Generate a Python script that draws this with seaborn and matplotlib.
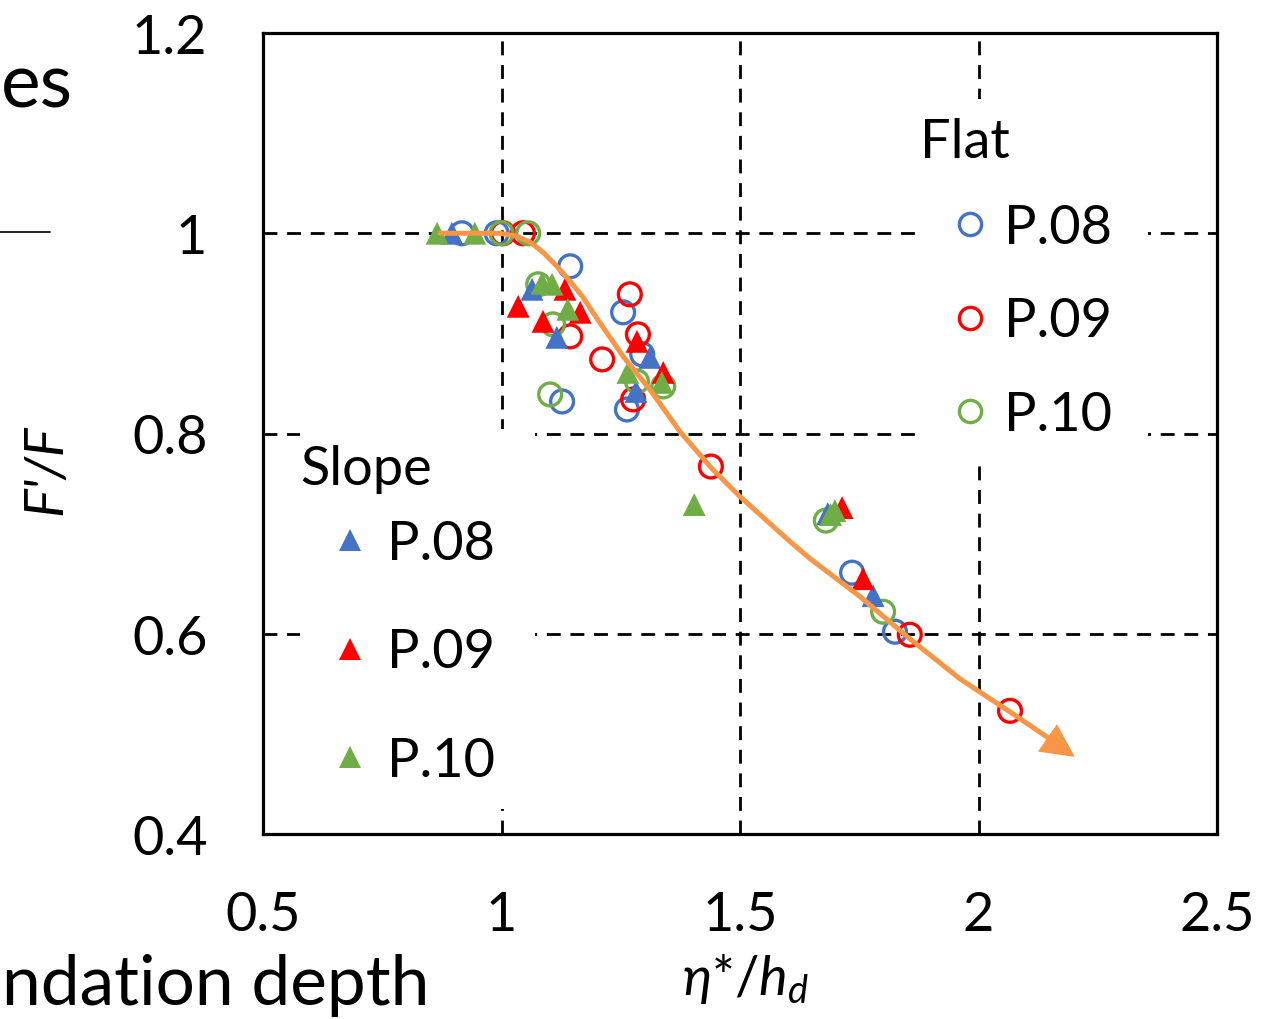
import numpy as np
import seaborn as sns
import matplotlib.pyplot as plt
from matplotlib.lines import Line2D
from matplotlib.patches import Rectangle

# flat series (open circles)
flat08_x = [0.917, 0.990, 1.144, 1.255, 1.295, 1.127, 1.263, 1.735, 1.825]
flat08_y = [1.000, 1.000, 0.967, 0.921, 0.879, 0.832, 0.824, 0.661, 0.602]
flat09_x = [1.003, 1.045, 1.144, 1.211, 1.269, 1.286, 1.276, 1.439, 1.856, 2.066]
flat09_y = [1.000, 1.000, 0.897, 0.874, 0.939, 0.899, 0.834, 0.767, 0.599, 0.523]
flat10_x = [1.000, 1.056, 1.077, 1.108, 1.102, 1.284, 1.339, 1.680, 1.800]
flat10_y = [1.000, 1.000, 0.949, 0.909, 0.839, 0.852, 0.847, 0.713, 0.622]

# slope series (filled triangles)
slope08_x = [0.896, 1.064, 1.116, 1.311, 1.282, 1.684, 1.779]
slope08_y = [1.000, 0.944, 0.896, 0.876, 0.842, 0.720, 0.638]
slope09_x = [1.035, 1.087, 1.133, 1.165, 1.284, 1.339, 1.714, 1.758]
slope09_y = [0.927, 0.912, 0.944, 0.921, 0.892, 0.861, 0.726, 0.655]
slope10_x = [0.865, 0.944, 1.085, 1.106, 1.139, 1.265, 1.336, 1.404, 1.699, 1.690]
slope10_y = [1.000, 1.000, 0.950, 0.949, 0.924, 0.861, 0.851, 0.729, 0.723, 0.719]

# fitted trend curve
curve_x = [0.871, 0.997, 1.032, 1.060, 1.087, 1.116, 1.144, 1.171, 1.200, 1.255,
           1.311, 1.374, 1.443, 1.500, 1.605, 1.647, 1.752, 1.856, 1.961, 2.066,
           2.171, 2.202]
curve_y = [1.000, 1.000, 0.997, 0.991, 0.981, 0.967, 0.952, 0.936, 0.915, 0.877,
           0.844, 0.802, 0.764, 0.737, 0.692, 0.675, 0.637, 0.595, 0.555, 0.522,
           0.488, 0.477]

x_ticks = [0.5, 1.0, 1.5, 2.0, 2.5]
x_ticklabels = ["0.5", "1", "1.5", "2", "2.5"]
y_ticks = [0.4, 0.6, 0.8, 1.0, 1.2]
y_ticklabels = ["0.4", "0.6", "0.8", "1", "1.2"]
labels = ["P.08", "P.09", "P.10"]
colors = ["#4472C4", "#FF0000", "#70AD47"]
orange = "#F79646"

W, H = 1261, 1020


def fx(px):
    return px / W


def fy(py):
    return 1 - py / H


sns.set_theme(style="white")
plt.rcParams['font.family'] = ['Lato', 'DejaVu Sans']
plt.rcParams['mathtext.fontset'] = 'custom'
plt.rcParams['mathtext.rm'] = 'Lato'
plt.rcParams['mathtext.it'] = 'Lato:italic'
for key in ['text.color', 'axes.labelcolor', 'xtick.color', 'ytick.color']:
    plt.rcParams[key] = 'black'
fs = 39

fig = plt.figure(figsize=(W / 100, H / 100), dpi=100)
ax = fig.add_axes([fx(263), fy(835), (1217 - 263) / W, (835 - 34) / H])

flat = [(flat08_x, flat08_y), (flat09_x, flat09_y), (flat10_x, flat10_y)]
slope = [(slope08_x, slope08_y), (slope09_x, slope09_y), (slope10_x, slope10_y)]

for (xs, ys), c in zip(flat, colors):
    sns.scatterplot(x=xs, y=ys, ax=ax, marker="o", s=270, facecolor="none",
                    edgecolor=c, linewidth=2.4, zorder=3)
for (xs, ys), c in zip(slope, colors):
    sns.scatterplot(x=xs, y=ys, ax=ax, marker="^", s=270, color=c,
                    edgecolor="none", linewidth=0, zorder=3)

sns.lineplot(x=curve_x[:-1], y=curve_y[:-1], ax=ax, sort=False, color=orange,
             lw=3.6, zorder=4, estimator=None)
ax.annotate("", xy=(curve_x[-1], curve_y[-1]), xytext=(curve_x[-3], curve_y[-3]),
            arrowprops=dict(arrowstyle="-|>", color=orange, lw=0,
                            mutation_scale=60, shrinkA=0, shrinkB=0), zorder=4)

ax.set_xlim(0.5, 2.5)
ax.set_ylim(0.4, 1.2)
ax.set_xticks(x_ticks)
ax.set_xticklabels(x_ticklabels)
ax.set_yticks(y_ticks)
ax.set_yticklabels(y_ticklabels)
ax.tick_params(labelsize=fs, length=0, pad=40)
ax.set_axisbelow(True)
ax.grid(True, color="black", lw=2.0, ls=(0, (5, 3.5)))
for sp in ax.spines.values():
    sp.set_color("black")
    sp.set_linewidth(2.3)

ax.set_xlabel(r"$\eta{*}/h_d$", fontsize=fs)
ax.set_ylabel("F'/F", fontsize=fs, style="italic")
ax.xaxis.set_label_coords((745 - 263) / 954, -(952 - 835) / 801)
ax.yaxis.set_label_coords(-(263 - 70) / 954, (835 - 470) / 801)

# white boxes behind the legends
ax.add_patch(Rectangle((fx(300), fy(810)), fx(535) - fx(300), fy(430) - fy(810),
                       transform=fig.transFigure, facecolor="white",
                       edgecolor="none", zorder=1))
ax.add_patch(Rectangle((fx(920), fy(460)), fx(1148) - fx(920), fy(100) - fy(460),
                       transform=fig.transFigure, facecolor="white",
                       edgecolor="none", zorder=1))

slope_handles = [Line2D([], [], ls="none", marker="^", ms=16, color=c,
                        markeredgewidth=0) for c in colors]
flat_handles = [Line2D([], [], ls="none", marker="o", ms=16, markerfacecolor="none",
                       markeredgecolor=c, markeredgewidth=2.4) for c in colors]

leg1 = ax.legend(slope_handles, labels, loc="center left",
                 bbox_to_anchor=(fx(300), fy(653)), bbox_transform=fig.transFigure,
                 frameon=False, fontsize=fs, numpoints=1, handlelength=1.85,
                 handletextpad=-0.25, labelspacing=1.1, borderpad=0,
                 borderaxespad=0)
ax.add_artist(leg1)
ax.legend(flat_handles, labels, loc="center left",
          bbox_to_anchor=(fx(920), fy(322)), bbox_transform=fig.transFigure,
          frameon=False, fontsize=fs, numpoints=1, handlelength=1.85,
          handletextpad=-0.3, labelspacing=0.82, borderpad=0, borderaxespad=0)

fig.text(fx(300), fy(470), "Slope", fontsize=fs, va="center", ha="left", zorder=5)
fig.text(fx(920), fy(143), "Flat", fontsize=fs, va="center", ha="left", zorder=5)

# fragments of the neighbouring panel
fig.text(fx(1), fy(107), "es", fontsize=54, ha="left", va="baseline")
fig.add_artist(Line2D([0, fx(50)], [fy(233), fy(233)], color="black", lw=1.2))
fig.text(fx(2), fy(1005), "ndation depth", fontsize=50, ha="left", va="baseline")

fig.savefig("out.png", dpi=100)
